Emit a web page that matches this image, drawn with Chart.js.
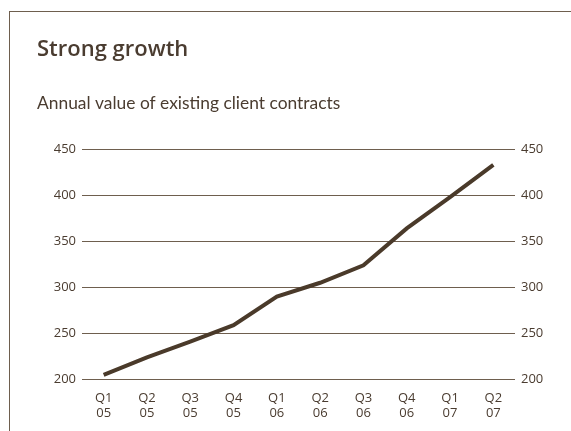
<!DOCTYPE html>
<html>
<head>
<meta charset="utf-8">
<script src="https://cdn.jsdelivr.net/npm/chart.js@4"></script>
<style>
    body { margin: 0; background: #fff; }
    .frame {
        position: absolute; left: 9px; top: 11px;
        width: 562px; height: 420px;
        border-top: 1px solid #6e5e4e;
        border-left: 1px solid #6e5e4e;
    }
    canvas { display: block; }
</style>
</head>
<body>
<div class="frame">
    <canvas id="growthChart" width="561" height="419"></canvas>
</div>
<script>
const quarters = [["Q1", "05"], ["Q2", "05"], ["Q3", "05"], ["Q4", "05"], ["Q1", "06"],
                  ["Q2", "06"], ["Q3", "06"], ["Q4", "06"], ["Q1", "07"], ["Q2", "07"]];
const contractValues = [205, 224, 241, 259, 290, 305, 324, 364, 398, 433];
const yTicks = [200, 250, 300, 350, 400, 450];

const ink = "#4a3c30";
const gridColor = "#6e5e4e";
const font = "'Open Sans', 'Noto Sans', sans-serif";

const tickFont = { family: font, size: 13, lineHeight: 1.1 };

new Chart(document.getElementById("growthChart"), {
    type: "line",
    data: {
        labels: quarters,
        datasets: [{
            data: contractValues,
            borderColor: "#4a3a2a",
            borderWidth: 4,
            pointRadius: 0,
            tension: 0,
            yAxisID: "y"
        }]
    },
    options: {
        responsive: false,
        animation: false,
        layout: { padding: { left: 27, right: 20, bottom: 7 } },
        plugins: {
            legend: { display: false },
            tooltip: { enabled: false },
            title: {
                display: true,
                text: "Strong growth",
                align: "start",
                color: ink,
                font: { family: font, size: 22, weight: "600" },
                padding: { top: 25, bottom: 30 }
            },
            subtitle: {
                display: true,
                text: "Annual value of existing client contracts",
                align: "start",
                color: ink,
                font: { family: "Lato, 'Open Sans', sans-serif", size: 17.4, weight: "normal" },
                padding: { top: 0, bottom: 35 }
            }
        },
        scales: {
            x: {
                offset: true,
                grid: { display: false },
                border: { display: false },
                ticks: { color: ink, font: tickFont, maxRotation: 0, padding: 4 }
            },
            y: {
                position: "left",
                min: 200,
                max: 450,
                afterBuildTicks: axis => { axis.ticks = yTicks.map(v => ({ value: v })); },
                afterFit: axis => { axis.width = 45; },
                grid: { color: gridColor, lineWidth: 1, drawTicks: false },
                border: { display: false },
                ticks: { color: ink, font: tickFont, padding: 6 }
            },
            y2: {
                position: "right",
                min: 200,
                max: 450,
                afterBuildTicks: axis => { axis.ticks = yTicks.map(v => ({ value: v })); },
                afterFit: axis => { axis.width = 36; },
                grid: { display: false, drawTicks: false },
                border: { display: false },
                ticks: { color: ink, font: tickFont, padding: 6 }
            }
        }
    }
});
</script>
</body>
</html>
